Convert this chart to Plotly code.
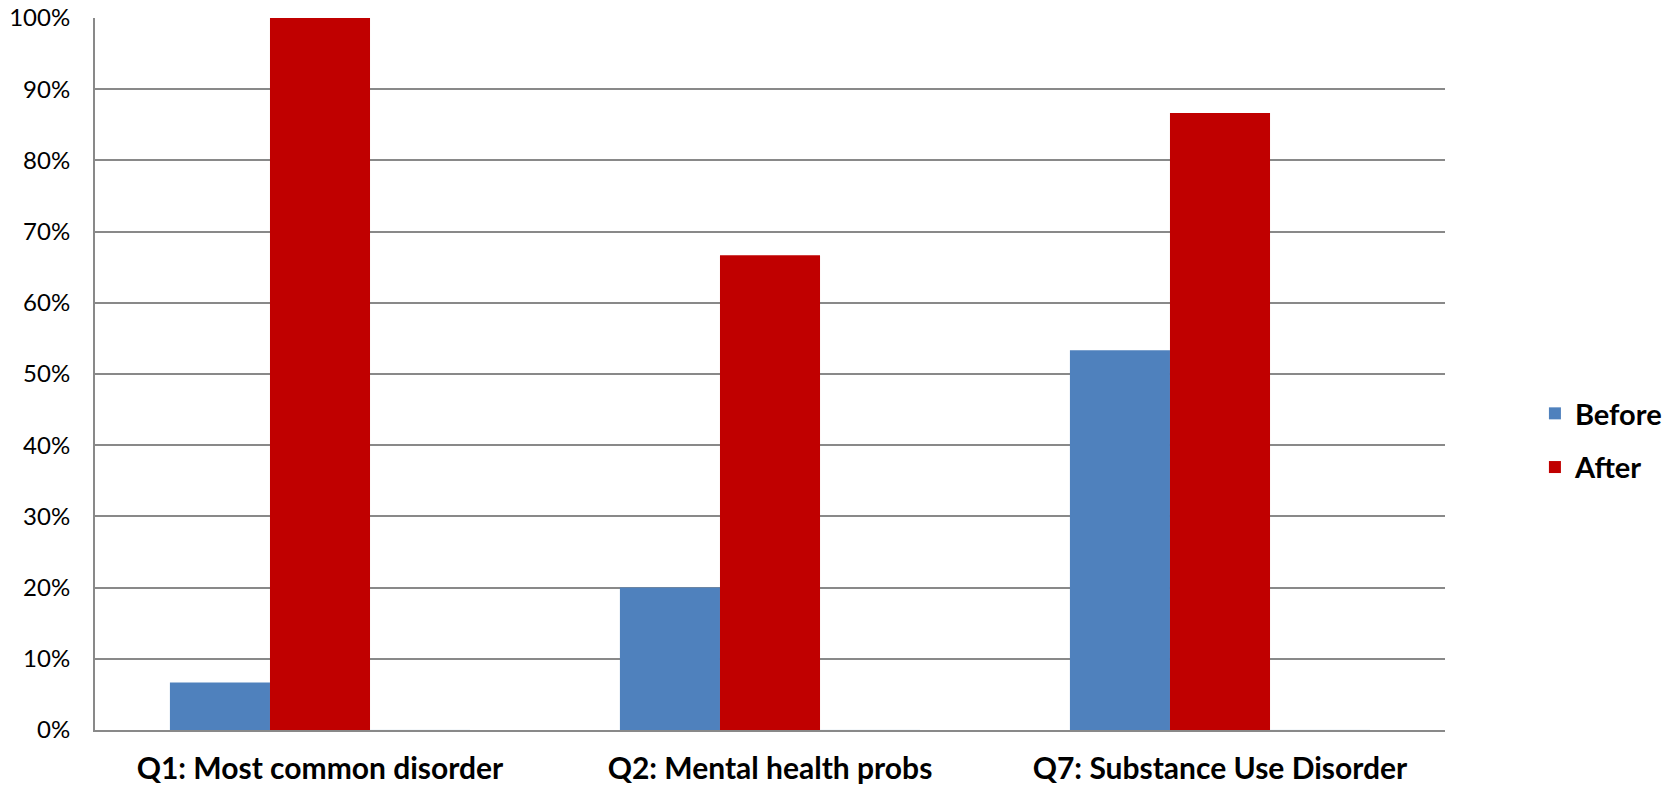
import plotly.graph_objects as go

categories = ["Q1: Most common disorder", "Q2: Mental health probs", "Q7: Substance Use Disorder"]
before = [0.0667, 0.20, 0.5333]
after = [1.00, 0.6667, 0.8667]
spacer = [0, 0, 0]

fig = go.Figure()
fig.add_trace(go.Bar(name="Before", x=categories, y=before, legendgroup="a",
                     marker=dict(color="#4F81BD", line=dict(width=0))))
fig.add_trace(go.Bar(name="After", x=categories, y=after, legendgroup="b",
                     marker=dict(color="#C00000", line=dict(width=0))))
fig.add_trace(go.Bar(name="", x=categories, y=spacer, showlegend=False, legendgroup="c",
                     marker=dict(color="rgba(0,0,0,0)")))

fig.update_layout(
    width=1678, height=788,
    barmode="group", bargap=0.333, bargroupgap=0,
    plot_bgcolor="white", paper_bgcolor="white",
    margin=dict(l=95, r=233, t=18, b=58),
    font=dict(family="Lato, Open Sans, sans-serif", color="black"),
    showlegend=True,
    legend=dict(xref="container", yref="container", x=0.9934, y=0.441, xanchor="right", yanchor="middle",
                font=dict(size=29, family="Lato, sans-serif", weight="bold"),
                itemwidth=30, tracegroupgap=13),
    xaxis=dict(showline=True, linecolor="#898989", linewidth=2, tickfont=dict(size=30, weight="bold"),
               ticks="", ticklabelstandoff=11, automargin=False),
    yaxis=dict(range=[0, 1], tickformat=".0%", dtick=0.1, showgrid=True, gridcolor="#898989", gridwidth=1.5,
               showline=True, linecolor="#898989", linewidth=2, tickfont=dict(size=24), ticks="",
               ticklabelstandoff=18, zeroline=False, automargin=False, ticklabeloverflow="allow"),
)
fig.write_html("out.html", config={"displayModeBar": False},
               post_script="document.body.style.margin='0';document.body.style.overflow='hidden';")
